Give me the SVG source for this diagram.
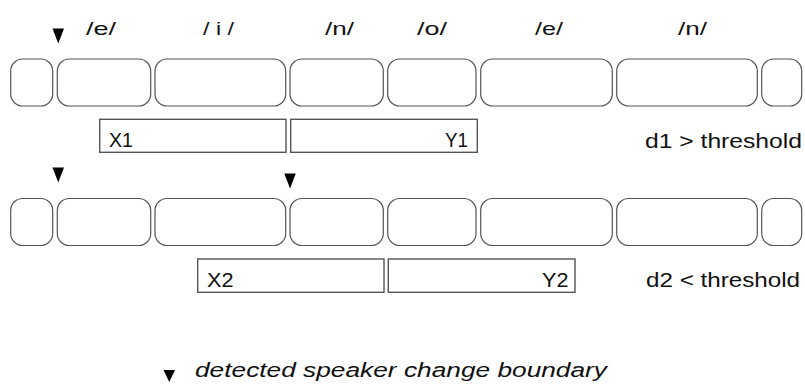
<svg xmlns="http://www.w3.org/2000/svg" xmlns:xlink="http://www.w3.org/1999/xlink" width="805" height="385" viewBox="0 0 805 385">
  <style>
    .seg { fill: #ffffff; stroke: #555555; stroke-width: 1.2; }
    .win { fill: #ffffff; stroke: #555555; stroke-width: 1.4; }
    .lbl { font-family: "Liberation Sans", "DejaVu Sans", sans-serif; font-size: 20px; fill: #111111; }
    .ph { font-family: "Liberation Sans", "DejaVu Sans", sans-serif; font-size: 19px; fill: #111111; }
    .legend { font-family: "Liberation Sans", "DejaVu Sans", sans-serif; font-size: 20px; font-style: italic; fill: #111111; }
  </style>
  <defs>
    <path id="mark" d="M0,0 L11.5,0 L5.75,15 Z" fill="#000000"/>
    <!-- one row of speech segments -->
    <g id="segrow">
      <rect class="seg" x="10.7" y="0" width="42" height="47" rx="12"/>
      <rect class="seg" x="57.3" y="0" width="93.4" height="47" rx="12"/>
      <rect class="seg" x="155" y="0" width="130.7" height="47" rx="12"/>
      <rect class="seg" x="290" y="0" width="93.3" height="47" rx="12"/>
      <rect class="seg" x="387.7" y="0" width="88.3" height="47" rx="12"/>
      <rect class="seg" x="480.7" y="0" width="131.6" height="47" rx="12"/>
      <rect class="seg" x="616.7" y="0" width="140.6" height="47" rx="12"/>
      <rect class="seg" x="761.7" y="0" width="40" height="47" rx="12"/>
    </g>
  </defs>

  <!-- phoneme labels -->
  <g id="phonemes">
    <text class="ph" x="86" y="35" textLength="30" lengthAdjust="spacingAndGlyphs">/e/</text>
    <text class="ph" x="203" y="35" textLength="31" lengthAdjust="spacingAndGlyphs">/ i /</text>
    <text class="ph" x="325" y="35" textLength="29" lengthAdjust="spacingAndGlyphs">/n/</text>
    <text class="ph" x="417" y="35" textLength="30" lengthAdjust="spacingAndGlyphs">/o/</text>
    <text class="ph" x="535" y="35" textLength="28" lengthAdjust="spacingAndGlyphs">/e/</text>
    <text class="ph" x="678" y="35" textLength="29" lengthAdjust="spacingAndGlyphs">/n/</text>
  </g>

  <!-- first analysis step -->
  <g id="row1">
    <use xlink:href="#mark" href="#mark" x="52.5" y="28.5"/>
    <use xlink:href="#segrow" href="#segrow" x="0" y="59"/>
  </g>
  <g id="window-x1">
    <rect class="win" x="99.7" y="119.3" width="186.3" height="33"/>
    <text class="lbl" x="109" y="147" textLength="24" lengthAdjust="spacingAndGlyphs">X1</text>
  </g>
  <g id="window-y1">
    <rect class="win" x="290.7" y="119.3" width="186.6" height="33"/>
    <text class="lbl" x="445" y="147" textLength="23" lengthAdjust="spacingAndGlyphs">Y1</text>
  </g>
  <g id="result1">
    <text class="lbl" x="645" y="147.5" textLength="157" lengthAdjust="spacingAndGlyphs">d1 &gt; threshold</text>
  </g>

  <!-- second analysis step -->
  <g id="row2">
    <use xlink:href="#mark" href="#mark" x="52.5" y="167.5"/>
    <use xlink:href="#mark" href="#mark" x="284.3" y="173.5"/>
    <use xlink:href="#segrow" href="#segrow" x="0" y="198.5"/>
  </g>
  <g id="window-x2">
    <rect class="win" x="197.7" y="259" width="186.3" height="33.3"/>
    <text class="lbl" x="207" y="286.5" textLength="26.5" lengthAdjust="spacingAndGlyphs">X2</text>
  </g>
  <g id="window-y2">
    <rect class="win" x="388.3" y="259" width="186.7" height="33.3"/>
    <text class="lbl" x="542" y="286.5" textLength="26.5" lengthAdjust="spacingAndGlyphs">Y2</text>
  </g>
  <g id="result2">
    <text class="lbl" x="646" y="286.5" textLength="154" lengthAdjust="spacingAndGlyphs">d2 &lt; threshold</text>
  </g>

  <!-- legend -->
  <g id="legend">
    <path d="M163.5,370 L175,370 L169.25,382 Z" fill="#000000"/>
    <text class="legend" x="195" y="377" textLength="412" lengthAdjust="spacingAndGlyphs">detected speaker change boundary</text>
  </g>
</svg>
